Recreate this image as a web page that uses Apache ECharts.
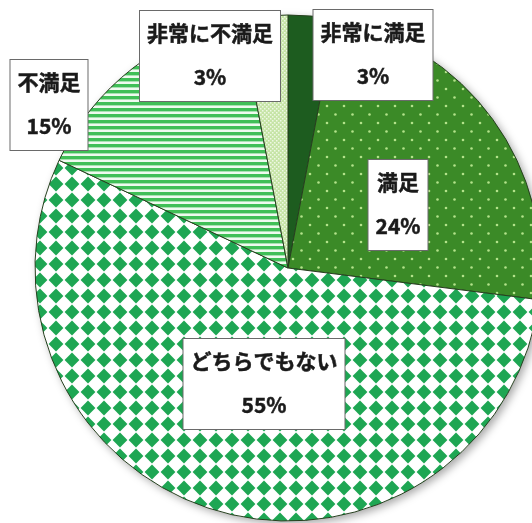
<!DOCTYPE html>
<html>
<head>
<meta charset="utf-8">
<script src="https://cdn.jsdelivr.net/npm/echarts@6/dist/echarts.min.js"></script>
<style>
  html, body { margin: 0; padding: 0; background: #fff; }
  #chart { width: 532px; height: 523px; }
</style>
</head>
<body>
<div id="chart"></div>
<script>
// Satisfaction survey breakdown (percent of respondents)
const categories = ['非常に満足', '満足', 'どちらでもない', '不満足', '非常に不満足'];
const shares = [3, 24, 55, 15, 3];

// Label box placement (centre x, centre y) for each slice, in pixels
const labelSpots = [
  [373, 55],
  [398, 205],
  [264, 384],
  [49, 105],
  [210, 56]
];

function tile(w, h, draw) {
  const c = document.createElement('canvas');
  c.width = w; c.height = h;
  draw(c.getContext('2d'), w, h);
  return { image: c, repeat: 'repeat' };
}

// Dotted dark-green fill
const dotFill = tile(17, 17, (g, w, h) => {
  g.fillStyle = '#3b8a27'; g.fillRect(0, 0, w, h);
  g.fillStyle = '#b3e28a';
  [[4, 4], [12.5, 12.5]].forEach(([x, y]) => {
    g.beginPath(); g.arc(x, y, 1.3, 0, Math.PI * 2); g.fill();
  });
});

// Diamond checker fill
const diamondFill = tile(16, 16, (g, w, h) => {
  g.fillStyle = '#ffffff'; g.fillRect(0, 0, w, h);
  g.fillStyle = '#1ea653';
  const cx = w / 2, cy = h / 2, r = 7.4;
  g.beginPath();
  g.moveTo(cx, cy - r); g.lineTo(cx + r, cy); g.lineTo(cx, cy + r); g.lineTo(cx - r, cy);
  g.closePath(); g.fill();
});

// Horizontal stripe fill
const stripeFill = tile(8, 6, (g, w, h) => {
  g.fillStyle = '#eefaee'; g.fillRect(0, 0, w, h);
  g.fillStyle = '#40bf57'; g.fillRect(0, 0, w, 3.4);
});

// Fine pale-green dotted fill
const paleFill = tile(4, 4, (g, w, h) => {
  g.fillStyle = '#c6e4a6'; g.fillRect(0, 0, w, h);
  g.fillStyle = '#eef8e4';
  g.fillRect(0, 0, 1.5, 1.5); g.fillRect(2, 2, 1.5, 1.5);
});

const fills = ['#1d5c1f', dotFill, diamondFill, stripeFill, paleFill];

const textBase = {
  fontFamily: 'Noto Sans CJK JP',
  fontWeight: 'bold',
  fontSize: 21,
  color: '#1a1a1a',
  textBorderColor: '#1a1a1a',
  textBorderWidth: 0.5,
  lineHeight: 44,
  align: 'center'
};

const chart = echarts.init(document.getElementById('chart'), null, { renderer: 'canvas' });

chart.setOption({
  backgroundColor: '#ffffff',
  animation: false,
  series: [
    {
      // soft drop shadow under the whole disc
      type: 'pie',
      silent: true,
      z: 1,
      center: [288, 268],
      radius: 253,
      label: { show: false },
      itemStyle: {
        color: '#ffffff',
        shadowBlur: 8,
        shadowOffsetX: 3,
        shadowOffsetY: 3,
        shadowColor: 'rgba(0,0,0,0.35)'
      },
      data: [{ value: 1, name: '' }]
    },
    {
      type: 'pie',
      z: 2,
      center: [288, 268],
      radius: 253,
      startAngle: 90,
      clockwise: true,
      avoidLabelOverlap: false,
      itemStyle: { borderColor: '#27401f', borderWidth: 1 },
      labelLine: { show: false },
      label: {
        show: true,
        position: 'inside',
        formatter: '{n|{b}}\n{p|{c}%}',
        backgroundColor: '#ffffff',
        borderColor: '#6a6a6a',
        borderWidth: 1,
        padding: [0, 7, 2, 7],
        align: 'center',
        verticalAlign: 'middle',
        rich: {
          n: textBase,
          p: textBase
        }
      },
      labelLayout: (params) => {
        const s = labelSpots[params.dataIndex];
        return { x: s[0], y: s[1], align: 'center', verticalAlign: 'middle' };
      },
      data: categories.map((name, i) => ({
        name,
        value: shares[i],
        itemStyle: { color: fills[i] }
      }))
    }
  ]
});
</script>
</body>
</html>
